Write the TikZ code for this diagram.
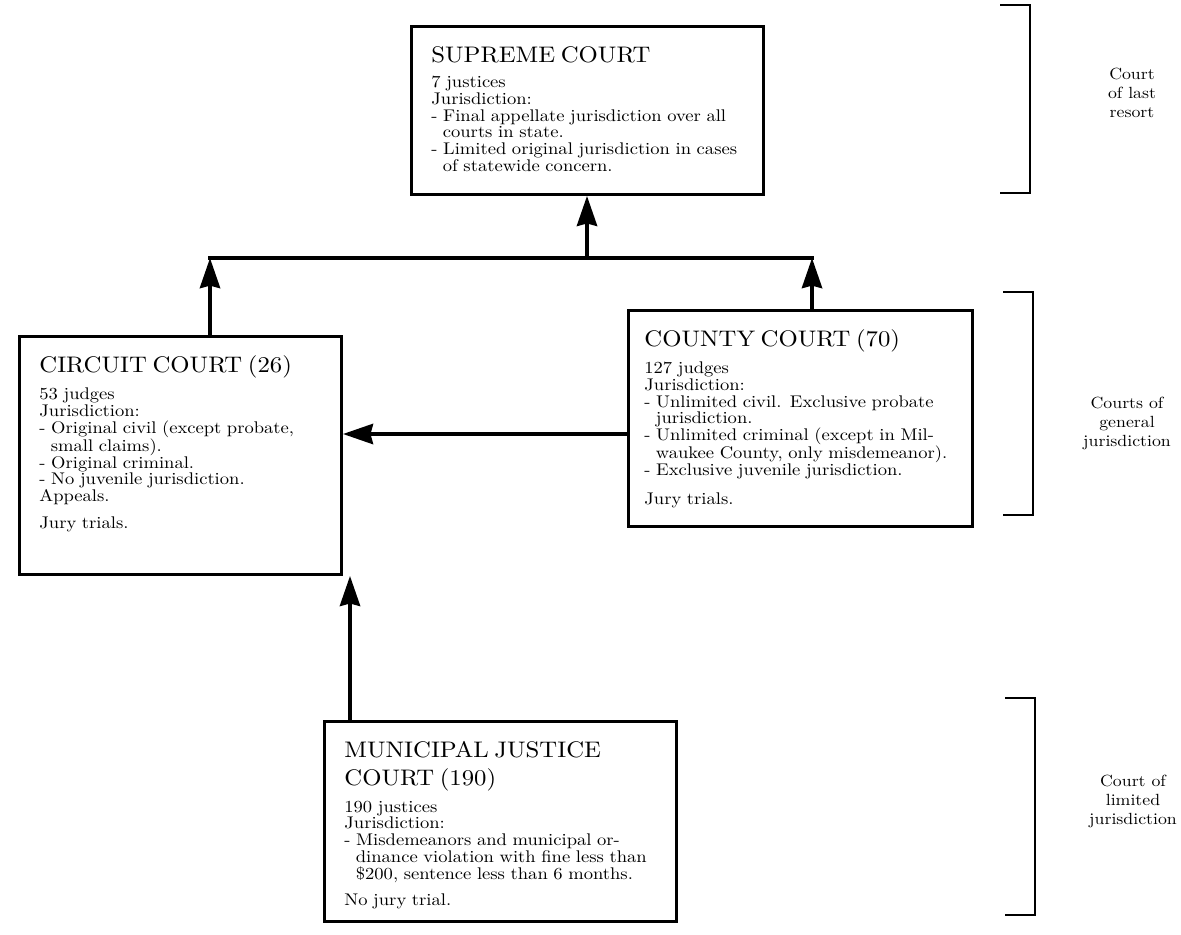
\documentclass[tikz,border=0pt]{standalone}
\usepackage{fontspec}
\setmainfont{lmroman10-regular.otf}[FakeStretch=1.1]
\usetikzlibrary{arrows.meta}

\newcommand{\dashitem}[1]{\par\hangindent=0.68em\hangafter=1 -\ #1\par}
\newcommand{\courthead}[1]{{\fontsize{16}{20}\selectfont #1\par}\vspace{6pt}}

\begin{document}
\begin{tikzpicture}[x=0.025cm,y=-0.025cm,
    court/.style={draw,line width=2pt,anchor=north west,align=left,inner xsep=0.5cm,inner ysep=0.45cm,
      text height=0.45cm,font=\fontsize{12}{11.9}\selectfont},
    link/.style={line width=3pt,-{Stealth[length=0.75cm,width=0.5cm,inset=0.06cm]}},
    tier/.style={align=center,font=\fontsize{11.5}{13.5}\selectfont},
    bracket/.style={line width=1.5pt}]
  \useasboundingbox (0,0) rectangle (1181,934);

  % courts
  \node[court,text width=7.8cm,text depth=2.85cm] (supreme) at (410,25) {%
    \courthead{SUPREME COURT}
    7 justices\newline
    Jurisdiction:
    \dashitem{Final appellate jurisdiction over all\newline courts in state.}
    \dashitem{Limited original jurisdiction in cases\newline of statewide concern.}};

  \node[court,text width=7.05cm,text depth=4.6cm] (circuit) at (18,335) {%
    \courthead{CIRCUIT COURT (26)}
    53 judges\newline
    Jurisdiction:
    \dashitem{Original civil (except probate,\newline small claims).}
    \dashitem{Original criminal.}
    \dashitem{No juvenile jurisdiction.}
    Appeals.\par\vspace{7pt}
    Jury trials.};

  \node[court,inner xsep=0.4cm,text width=7.8cm,text depth=4.05cm] (county) at (627,309) {%
    \courthead{COUNTY COURT (70)}
    127 judges\newline
    Jurisdiction:
    \dashitem{Unlimited civil. Exclusive probate\newline jurisdiction.}
    \dashitem{Unlimited criminal (except in Mil-\newline waukee County, only misdemeanor).}
    \dashitem{Exclusive juvenile jurisdiction.}
    \vspace{9pt}
    Jury trials.};

  \node[court,text width=7.8cm,text depth=3.65cm] (municipal) at (323,720) {%
    \courthead{MUNICIPAL JUSTICE\\COURT (190)}
    190 justices\newline
    Jurisdiction:
    \dashitem{Misdemeanors and municipal or-\newline dinance violation with fine less than\newline \$200, sentence less than 6 months.}
    \vspace{7pt}
    No jury trial.};

  % appeal routes
  \coordinate (jl) at (210,258);
  \coordinate (jm) at (587,258);
  \coordinate (jr) at (812,258);
  \coordinate (hc) at (480,434);
  \coordinate (mv) at (350,650);

  \draw[line width=3pt,line cap=rect] (jl) -- (jr);
  \draw[link] (circuit.north -| jl) -- (jl);
  \draw[link] (county.north -| jr) -- (jr);
  \draw[link] (jm) -- (supreme.south -| jm);
  \draw[link] (county.west |- hc) -- (circuit.east |- hc);
  \draw[link] (municipal.north -| mv) -- (circuit.south -| mv);

  % tiers
  \draw[bracket] (1000,5) -- (1030,5) -- (1030,193) -- (1000,193);
  \draw[bracket] (1003,292) -- (1033,292) -- (1033,515) -- (1003,515);
  \draw[bracket] (1005,698) -- (1035,698) -- (1035,915) -- (1005,915);

  \node[tier] (lastresort) at (1132,93) {Court\\of last\\resort};
  \node[tier] (general) at (1127,423) {Courts of\\general\\jurisdiction};
  \node[tier] (limited) at (1133,801) {Court of\\limited\\jurisdiction};
\end{tikzpicture}
\end{document}
